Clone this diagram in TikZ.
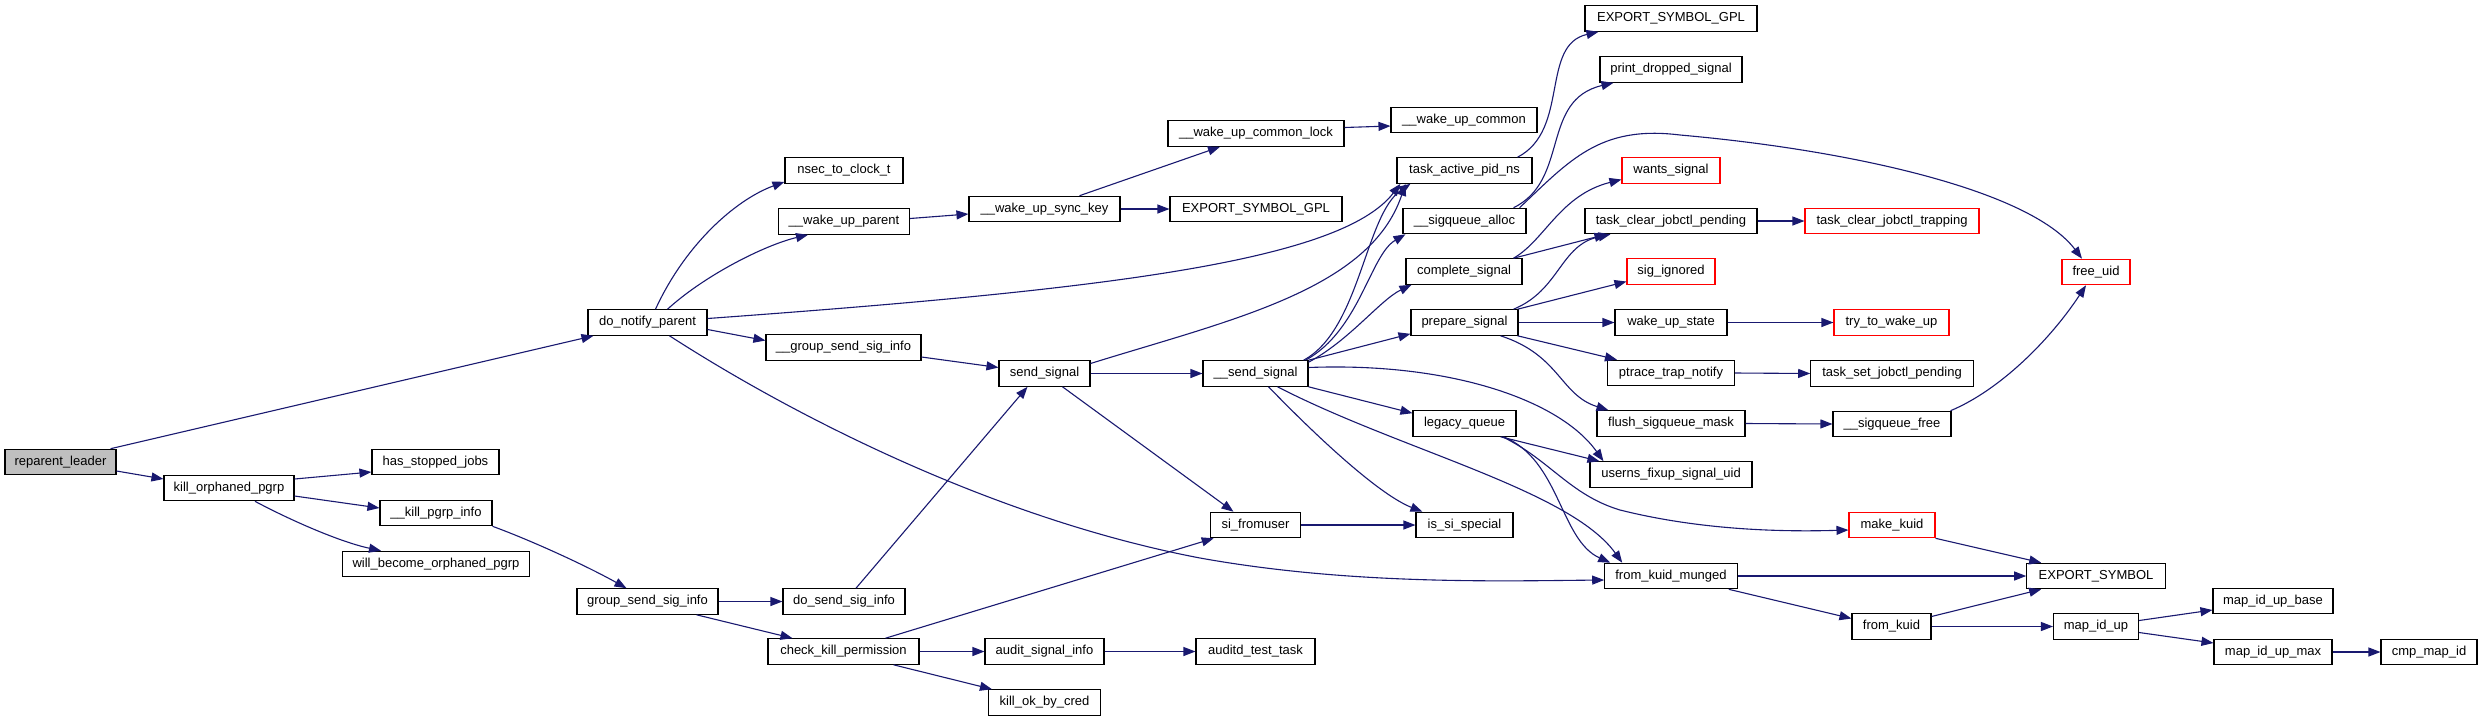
\documentclass[tikz,border=0pt]{standalone}
\usepackage{fontspec}
\setmainfont{Liberation Sans}
\usetikzlibrary{arrows.meta}
\definecolor{edgec}{HTML}{191970}
\definecolor{nodered}{HTML}{FF0000}
\definecolor{rootfill}{HTML}{BFBFBF}
\tikzset{
  fn/.style={draw=black, line width=1.1pt, fill=white, minimum height=25.5pt, inner sep=0pt,
             font=\fontsize{13}{15}\selectfont, text=black},
  fnred/.style={fn, draw=nodered},
  fnroot/.style={fn, fill=rootfill},
  e/.style={draw=edgec, line width=1.1pt, -{Triangle[length=12pt,width=9pt]}},
}
\begin{document}
\begin{tikzpicture}[x=1pt,y=-1pt]
\useasboundingbox[fill=white] (0,0) rectangle (2483,721);
% nodes
\node[fnroot, minimum width=111pt] (rl) at (60.5,462) {reparent\_leader};
\node[fn, minimum width=130pt] (kop) at (229,488) {kill\_orphaned\_pgrp};
\node[fn, minimum width=127pt] (hsj) at (435.5,462) {has\_stopped\_jobs};
\node[fn, minimum width=112pt] (kpi) at (436,513) {\_\_kill\_pgrp\_info};
\node[fn, minimum width=187pt] (wbop) at (436,564) {will\_become\_orphaned\_pgrp};
\node[fn, minimum width=119pt] (dnp) at (647.5,322.5) {do\_notify\_parent};
\node[fn, minimum width=141pt] (gssi) at (647.5,601.5) {group\_send\_sig\_info};
\node[fn, minimum width=118pt] (nsec) at (844,170.5) {nsec\_to\_clock\_t};
\node[fn, minimum width=131pt] (wup) at (844,221.5) {\_\_wake\_up\_parent};
\node[fn, minimum width=155pt] (ugssi) at (843.5,347.5) {\_\_group\_send\_sig\_info};
\node[fn, minimum width=122pt] (dssi) at (844,601.5) {do\_send\_sig\_info};
\node[fn, minimum width=151pt] (ckp) at (843.5,651.5) {check\_kill\_permission};
\node[fn, minimum width=151pt] (wusk) at (1044.5,209) {\_\_wake\_up\_sync\_key};
\node[fn, minimum width=91pt] (ss) at (1044.5,373.5) {send\_signal};
\node[fn, minimum width=119pt] (asi) at (1044.5,651.5) {audit\_signal\_info};
\node[fn, minimum width=112pt] (kobc) at (1044.5,702.5) {kill\_ok\_by\_cred};
\node[fn, minimum width=176pt] (wucl) at (1256,133.5) {\_\_wake\_up\_common\_lock};
\node[fn, minimum width=172pt] (esg2) at (1256,209) {EXPORT\_SYMBOL\_GPL};
\node[fn, minimum width=105pt] (uss) at (1255.5,373.5) {\_\_send\_signal};
\node[fn, minimum width=90.5pt] (sifu) at (1255.5,525) {si\_fromuser};
\node[fn, minimum width=119pt] (atst) at (1255.5,651.5) {auditd\_test\_task};
\node[fn, minimum width=146pt] (wuc) at (1464,120) {\_\_wake\_up\_common};
\node[fn, minimum width=135pt] (tapn) at (1464.5,170.5) {task\_active\_pid\_ns};
\node[fn, minimum width=123pt] (sqa) at (1464.5,221) {\_\_sigqueue\_alloc};
\node[fn, minimum width=116pt] (cs) at (1464,271.5) {complete\_signal};
\node[fn, minimum width=107pt] (ps) at (1464.5,322.5) {prepare\_signal};
\node[fn, minimum width=103pt] (lq) at (1464.5,423.5) {legacy\_queue};
\node[fn, minimum width=97pt] (iss) at (1464.5,525) {is\_si\_special};
\node[fn, minimum width=172pt] (esg1) at (1671,18.5) {EXPORT\_SYMBOL\_GPL};
\node[fn, minimum width=142pt] (pds) at (1671,69.5) {print\_dropped\_signal};
\node[fnred, minimum width=98pt] (ws) at (1671,170.5) {wants\_signal};
\node[fn, minimum width=172pt] (tcjp) at (1671,221) {task\_clear\_jobctl\_pending};
\node[fnred, minimum width=88pt] (sig) at (1671,271.5) {sig\_ignored};
\node[fn, minimum width=112pt] (wus) at (1671,322.5) {wake\_up\_state};
\node[fn, minimum width=127pt] (ptn) at (1671,373) {ptrace\_trap\_notify};
\node[fn, minimum width=148pt] (fsm) at (1671,423.5) {flush\_sigqueue\_mask};
\node[fn, minimum width=162pt] (ufsu) at (1671,474.5) {userns\_fixup\_signal\_uid};
\node[fn, minimum width=132.5pt] (fkm) at (1671,576) {from\_kuid\_munged};
\node[fnred, minimum width=174pt] (tcjt) at (1892,221) {task\_clear\_jobctl\_trapping};
\node[fnred, minimum width=115pt] (ttwu) at (1891.5,322.5) {try\_to\_wake\_up};
\node[fn, minimum width=162.5pt] (tsjp) at (1892,373.5) {task\_set\_jobctl\_pending};
\node[fn, minimum width=118pt] (sqf) at (1892,424) {\_\_sigqueue\_free};
\node[fnred, minimum width=86pt] (mk) at (1892,525) {make\_kuid};
\node[fn, minimum width=79pt] (fk) at (1891.5,626.5) {from\_kuid};
\node[fnred, minimum width=68pt] (fu) at (2096,272) {free\_uid};
\node[fn, minimum width=138.5pt] (es) at (2096,576) {EXPORT\_SYMBOL};
\node[fn, minimum width=85pt] (miu) at (2096,626.5) {map\_id\_up};
\node[fn, minimum width=120pt] (miub) at (2273,601) {map\_id\_up\_base};
\node[fn, minimum width=118pt] (mium) at (2273,652) {map\_id\_up\_max};
\node[fn, minimum width=96pt] (cmi) at (2429,652) {cmp\_map\_id};
% edges
\draw[e] ([xshift=-6pt]rl.north east) -- ([xshift=6pt]dnp.south west);
\draw[e] ([yshift=-9pt]rl.east) -- ([yshift=9pt]kop.west);
\draw[e] ([yshift=9pt]kop.east) -- ([yshift=-10pt]hsj.west);
\draw[e] ([yshift=-8pt]kop.east) -- ([yshift=5pt]kpi.west);
\draw[e] ([xshift=26pt]kop.south) .. controls (290,520) and (340,542) .. ([xshift=-55pt]wbop.north);
\draw[e] (kpi.south east) .. controls (530,540) and (585,565) .. ([xshift=-21pt]gssi.north);
\draw[e] (gssi.east) -- (dssi.west);
\draw[e] ([xshift=-22pt]gssi.south east) -- ([xshift=25pt]ckp.north west);
\draw[e] ([xshift=12pt]dssi.north) -- ([xshift=-17pt]ss.south);
\draw[e] ([xshift=42pt]ckp.north) -- ([xshift=4pt]sifu.south west);
\draw[e] (ckp.east) -- (asi.west);
\draw[e] ([xshift=-26pt]ckp.south east) -- ([xshift=4pt]kobc.north west);
\draw[e] (asi.east) -- (atst.west);
\draw[e] ([xshift=8pt]dnp.north) .. controls (685,245) and (735,200) .. ([yshift=2pt]nsec.south west);
\draw[e] ([xshift=20pt]dnp.north) .. controls (705,275) and (765,245) .. ([xshift=-36pt]wup.south);
\draw[e] ([yshift=4pt]dnp.east) .. controls (1100,290) and (1340,262) .. ([xshift=4pt]tapn.south west);
\draw[e] ([yshift=-7pt]dnp.east) -- ([yshift=7pt]ugssi.west);
\draw[e] ([xshift=22pt]dnp.south) .. controls (800,420) and (1000,520) .. (1200,558) .. controls (1350,585) and (1500,581) .. ([yshift=-4pt]fkm.west);
\draw[e] ([yshift=3pt]wup.east) -- ([yshift=-5pt]wusk.west);
\draw[e] ([xshift=35pt]wusk.north) -- ([xshift=-36pt]wucl.south);
\draw[e] (wusk.east) -- (esg2.west);
\draw[e] ([yshift=6pt]wucl.east) -- ([yshift=-6pt]wuc.west);
\draw[e] ([yshift=-9.5pt]ugssi.east) -- ([yshift=6pt]ss.west);
\draw[e] (ss.east) -- (uss.west);
\draw[e] ([yshift=10pt]ss.east) .. controls (1230,320) and (1370,290) .. ([xshift=9pt]tapn.south west);
\draw[e] ([xshift=18pt]ss.south) -- ([xshift=-22pt]sifu.north);
\draw[e] (sifu.east) -- (iss.west);
\draw[e] ([xshift=-5pt]uss.north east) .. controls (1360,330) and (1365,215) .. ([xshift=14pt]tapn.south west);
\draw[e] ([xshift=-3pt]uss.north east) .. controls (1360,330) and (1370,255) .. ([xshift=3pt]sqa.south west);
\draw[e] ([yshift=-2pt]uss.north east) .. controls (1350,340) and (1380,300) .. ([xshift=6pt]cs.south west);
\draw[e] (uss.north east) -- ([yshift=2pt]ps.south west);
\draw[e] ([yshift=6pt]uss.east) .. controls (1450,362) and (1560,400) .. ([xshift=14pt]ufsu.north west);
\draw[e] (uss.south east) -- ([yshift=-3pt]lq.north west);
\draw[e] ([xshift=-31pt]uss.south east) .. controls (1400,450) and (1570,490) .. ([xshift=18pt]fkm.north west);
\draw[e] ([xshift=-40pt]uss.south east) .. controls (1320,440) and (1380,495) .. ([xshift=7pt]iss.north west);
\draw[e] ([xshift=-15pt]tapn.north east) .. controls (1570,130) and (1540,45) .. ([xshift=14pt]esg1.south west);
\draw[e] ([xshift=-13pt]sqa.north east) .. controls (1570,180) and (1540,100) .. ([xshift=14pt]pds.south west);
\draw[e] ([xshift=-7pt]sqa.north east) .. controls (1570,160) and (1600,125) .. (1680,135) .. controls (1850,150) and (2030,190) .. ([xshift=-14pt]fu.north);
\draw[e] ([xshift=-9pt]cs.north east) .. controls (1545,240) and (1560,195) .. ([yshift=-9pt]ws.west);
\draw[e] ([xshift=-9pt]cs.north east) -- ([xshift=22pt]tcjp.south west);
\draw[e] ([xshift=-5pt]ps.north east) .. controls (1560,290) and (1560,245) .. ([xshift=26pt]tcjp.south west);
\draw[e] ([xshift=-1pt]ps.north east) -- ([yshift=-10pt]sig.west);
\draw[e] (ps.east) -- (wus.west);
\draw[e] ([xshift=-1pt]ps.south east) -- ([xshift=10pt]ptn.north west);
\draw[e] ([xshift=-18pt]ps.south east) .. controls (1560,355) and (1560,395) .. ([xshift=12pt]fsm.north west);
\draw[e] (tcjp.east) -- (tcjt.west);
\draw[e] (wus.east) -- (ttwu.west);
\draw[e] (ptn.east) -- (tsjp.west);
\draw[e] (fsm.east) -- (sqf.west);
\draw[e] ([xshift=-1pt]sqf.north east) .. controls (2000,390) and (2050,340) .. ([xshift=-10pt]fu.south);
\draw[e] ([xshift=-16pt]lq.south east) -- ([xshift=10pt]ufsu.north west);
\draw[e] ([xshift=-13pt]lq.south east) .. controls (1560,460) and (1560,540) .. ([xshift=6pt]fkm.north west);
\draw[e] ([xshift=-14pt]lq.south east) .. controls (1550,460) and (1570,495) .. (1620,510) .. controls (1700,530) and (1780,532) .. ([yshift=-5pt]mk.west);
\draw[e] (fkm.east) -- (es.west);
\draw[e] ([xshift=-9pt]fkm.south east) -- ([yshift=8pt]fk.west);
\draw[e] (mk.south east) -- ([xshift=15pt]es.north west);
\draw[e] ([yshift=10pt]fk.east) -- ([xshift=15pt]es.south west);
\draw[e] (fk.east) -- (miu.west);
\draw[e] ([yshift=6pt]miu.east) -- ([yshift=-9pt]miub.west);
\draw[e] ([yshift=-6pt]miu.east) -- ([yshift=9pt]mium.west);
\draw[e] (mium.east) -- (cmi.west);
\end{tikzpicture}
\end{document}
